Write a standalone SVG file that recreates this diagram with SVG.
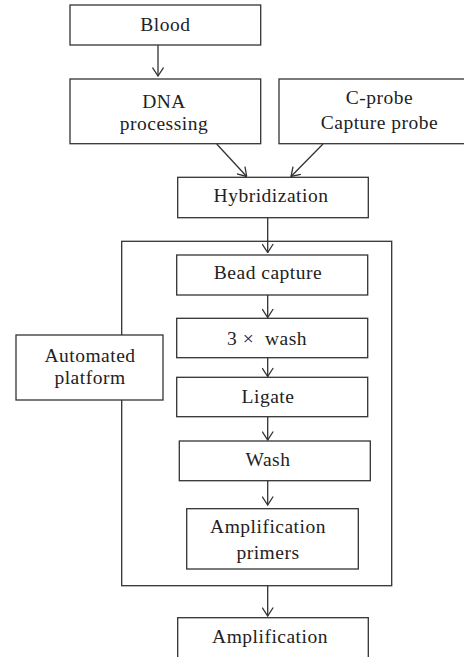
<svg xmlns="http://www.w3.org/2000/svg" width="464" height="657" viewBox="0 0 464 657">
<style>
.box{fill:#fff;stroke:#333;stroke-width:1.3}
.t{font-family:"Liberation Serif","Times New Roman",serif;font-size:19.5px;letter-spacing:0.5px;fill:#222;text-anchor:middle}
.c{stroke:#333;stroke-width:1.3;fill:none}
</style>
<defs>
<marker id="ah" viewBox="0 0 10 12" refX="9.5" refY="6" markerWidth="10" markerHeight="12" markerUnits="userSpaceOnUse" orient="auto">
<path d="M1,0.5 L9.5,6 L1,11.5" fill="none" stroke="#333" stroke-width="1.3"/>
</marker>
</defs>
<g id="platform-frame"><rect class="box" x="121.7" y="241.3" width="270" height="344.4" fill="none"/></g>
<g id="connectors">
<line class="c" x1="158" y1="45" x2="158" y2="76" marker-end="url(#ah)"/>
<line class="c" x1="216.7" y1="144" x2="246.7" y2="176.5" marker-end="url(#ah)"/>
<line class="c" x1="323" y1="144" x2="291" y2="176.5" marker-end="url(#ah)"/>
<line class="c" x1="267.7" y1="218" x2="267.7" y2="252.5" marker-end="url(#ah)"/>
<line class="c" x1="267.7" y1="295" x2="267.7" y2="317.5" marker-end="url(#ah)"/>
<line class="c" x1="267.7" y1="358" x2="267.7" y2="376.5" marker-end="url(#ah)"/>
<line class="c" x1="267.7" y1="417" x2="267.7" y2="440" marker-end="url(#ah)"/>
<line class="c" x1="267.7" y1="481" x2="267.7" y2="505" marker-end="url(#ah)"/>
<line class="c" x1="267.7" y1="586" x2="267.7" y2="616" marker-end="url(#ah)"/>
</g>
<g id="blood"><rect class="box" x="70" y="5" width="190.7" height="40"/><text class="t" x="165.3" y="31">Blood</text></g>
<g id="dna"><rect class="box" x="70" y="79" width="190.7" height="64.7"/><text class="t" x="164" y="108">DNA</text><text class="t" x="164" y="129.5">processing</text></g>
<g id="cprobe"><rect class="box" x="279" y="79" width="190" height="64.7"/><text class="t" x="379.5" y="103.5">C-probe</text><text class="t" x="379.5" y="128.5">Capture probe</text></g>
<g id="hybridization"><rect class="box" x="177.7" y="177.3" width="190.6" height="40.4"/><text class="t" x="271" y="202">Hybridization</text></g>
<g id="automated"><rect class="box" x="16" y="335" width="147" height="65"/><text class="t" x="90" y="361.5">Automated</text><text class="t" x="90" y="384">platform</text></g>
<g id="bead"><rect class="box" x="176.7" y="255" width="191" height="40"/><text class="t" x="268" y="278.5">Bead capture</text></g>
<g id="wash3"><rect class="box" x="176.7" y="318.3" width="191" height="39.4"/><text class="t" x="267" y="344.5">3 ×&#160; wash</text></g>
<g id="ligate"><rect class="box" x="176.7" y="377.3" width="191" height="39.4"/><text class="t" x="268" y="403">Ligate</text></g>
<g id="wash"><rect class="box" x="179.3" y="441" width="191" height="39.7"/><text class="t" x="268" y="466">Wash</text></g>
<g id="primers"><rect class="box" x="186.7" y="508.7" width="171.6" height="60.3"/><text class="t" x="268" y="533">Amplification</text><text class="t" x="268" y="558.5">primers</text></g>
<g id="amplification"><rect class="box" x="177.7" y="617.7" width="190.6" height="50"/><text class="t" x="270" y="643">Amplification</text></g>
</svg>
